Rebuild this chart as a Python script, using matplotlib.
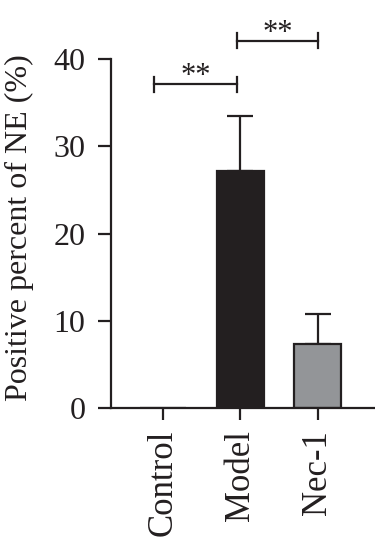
import numpy as np
import matplotlib
matplotlib.use('Agg')
import matplotlib.pyplot as plt

groups = ['Control', 'Model', 'Nec-1']
means = [0.0, 27.2, 7.4]
errs = [0.0, 6.3, 3.4]
colors = ['white', '#231f20', '#939598']
# significance brackets: (x1, x2, y, label)
sig = [(-0.12, 0.96, 37.1, '**'), (0.96, 2.0, 42.1, '**')]

plt.rcParams['font.family'] = ['Liberation Serif', 'DejaVu Serif']
ink = '#231f20'

fig = plt.figure(figsize=(3.75, 5.4), dpi=100)
ax = fig.add_axes([0.296, 0.2439, 0.704, 0.6468])

x = np.arange(len(groups))
ax.bar(x, means, width=0.6, color=colors, edgecolor=ink, linewidth=1.6, zorder=2)
for i in range(len(groups)):
    if errs[i] > 0:
        ax.errorbar(x[i], means[i], yerr=[[0], [errs[i]]], fmt='none', ecolor=ink,
                    elinewidth=1.6, capsize=9.7, capthick=1.6, zorder=1)

for x1, x2, y, lab in sig:
    ax.plot([x1, x2], [y, y], color=ink, lw=1.6, clip_on=False)
    for xx in (x1, x2):
        ax.plot([xx, xx], [y - 0.86, y + 0.86], color=ink, lw=1.6, clip_on=False)
    ax.text((x1 + x2) / 2, y, lab, ha='center', va='baseline', fontsize=22, color=ink)

ax.set_xlim(-0.67, 2.74)
ax.set_ylim(0, 40)
ax.set_yticks([0, 10, 20, 30, 40])
ax.set_xticks(x)
ax.set_xticklabels(groups, rotation=90, fontsize=25, color=ink)
ax.tick_params(axis='y', labelsize=23, length=9.4, width=1.6, colors=ink, pad=9)
ax.tick_params(axis='x', length=8.5, width=1.6, colors=ink, pad=7)
for s in ['top', 'right']:
    ax.spines[s].set_visible(False)
for s in ['left', 'bottom']:
    ax.spines[s].set_linewidth(1.6)
    ax.spines[s].set_color(ink)

fig.text(0.053, 0.578, 'Positive percent of NE (%)', rotation=90, ha='center', va='center',
         fontsize=23, color=ink)

fig.savefig('out.png', dpi=100)
